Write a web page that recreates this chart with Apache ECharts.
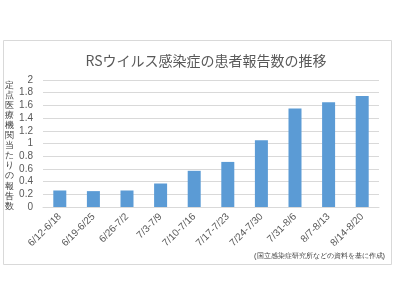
<!DOCTYPE html>
<html><head><meta charset="utf-8">
<script src="https://cdn.jsdelivr.net/npm/echarts@6/dist/echarts.min.js"></script>
<style>html,body{margin:0;padding:0;background:#fff}#c{width:397px;height:300px}</style>
</head><body><div id="c"></div>
<script>
const titleText = 'RSウイルス感染症の患者報告数の推移';
const yAxisName = '定点医療機関当たりの報告数';
const sourceNote = '(国立感染症研究所などの資料を基に作成)';
const categories = ['6/12-6/18','6/19-6/25','6/26-7/2','7/3-7/9','7/10-7/16','7/17-7/23','7/24-7/30','7/31-8/6','8/7-8/13','8/14-8/20'];
const values = [0.26, 0.25, 0.26, 0.37, 0.57, 0.71, 1.05, 1.55, 1.65, 1.75];
const yMin = 0, yMax = 2, yStep = 0.2;

const chart = echarts.init(document.getElementById('c'), null, {renderer:'canvas'});
const font = '"Noto Sans CJK JP", "Noto Sans", sans-serif';
chart.setOption({
  animation: false,
  backgroundColor: '#fff',
  textStyle: {fontFamily: font},
  title: {text: titleText, left: 201, top: 49, textAlign: 'center',
    textStyle: {fontSize: 14, fontWeight: 'normal', color: '#595959', fontFamily: font}},
  grid: {left: 43, right: 18, top: 80, bottom: 93, containLabel: false},
  xAxis: {type: 'category', data: categories,
    axisLine: {lineStyle: {color: '#d9d9d9'}}, axisTick: {show: false},
    axisLabel: {rotate: 45, interval: 0, fontSize: 10, color: '#595959', margin: 8, fontFamily: 'Liberation Sans, sans-serif'}},
  yAxis: {type: 'value', min: yMin, max: yMax, interval: yStep,
    axisLine: {show: false}, axisTick: {show: false},
    splitLine: {lineStyle: {color: '#d9d9d9'}},
    axisLabel: {fontSize: 10, color: '#595959', margin: 10, fontFamily: 'Liberation Sans, sans-serif'}},
  series: [{type: 'bar', data: values, barWidth: 13, itemStyle: {color: '#5b9bd5'}}],
  graphic: [
    {type: 'rect', shape: {x: 3.5, y: 40.5, width: 388, height: 224}, style: {fill: null, stroke: '#d9d9d9', lineWidth: 1}, silent: true, z: -1},
    {type: 'text', left: 5, top: 80, style: {text: yAxisName.split('').join('\n'), fontSize: 9, lineHeight: 10.1, fill: '#404040', font: '9px ' + font}},
    {type: 'text', right: 12, top: 252, style: {text: sourceNote, fontSize: 7.4, fill: '#404040', font: '7.4px ' + font}}
  ]
});
</script></body></html>
